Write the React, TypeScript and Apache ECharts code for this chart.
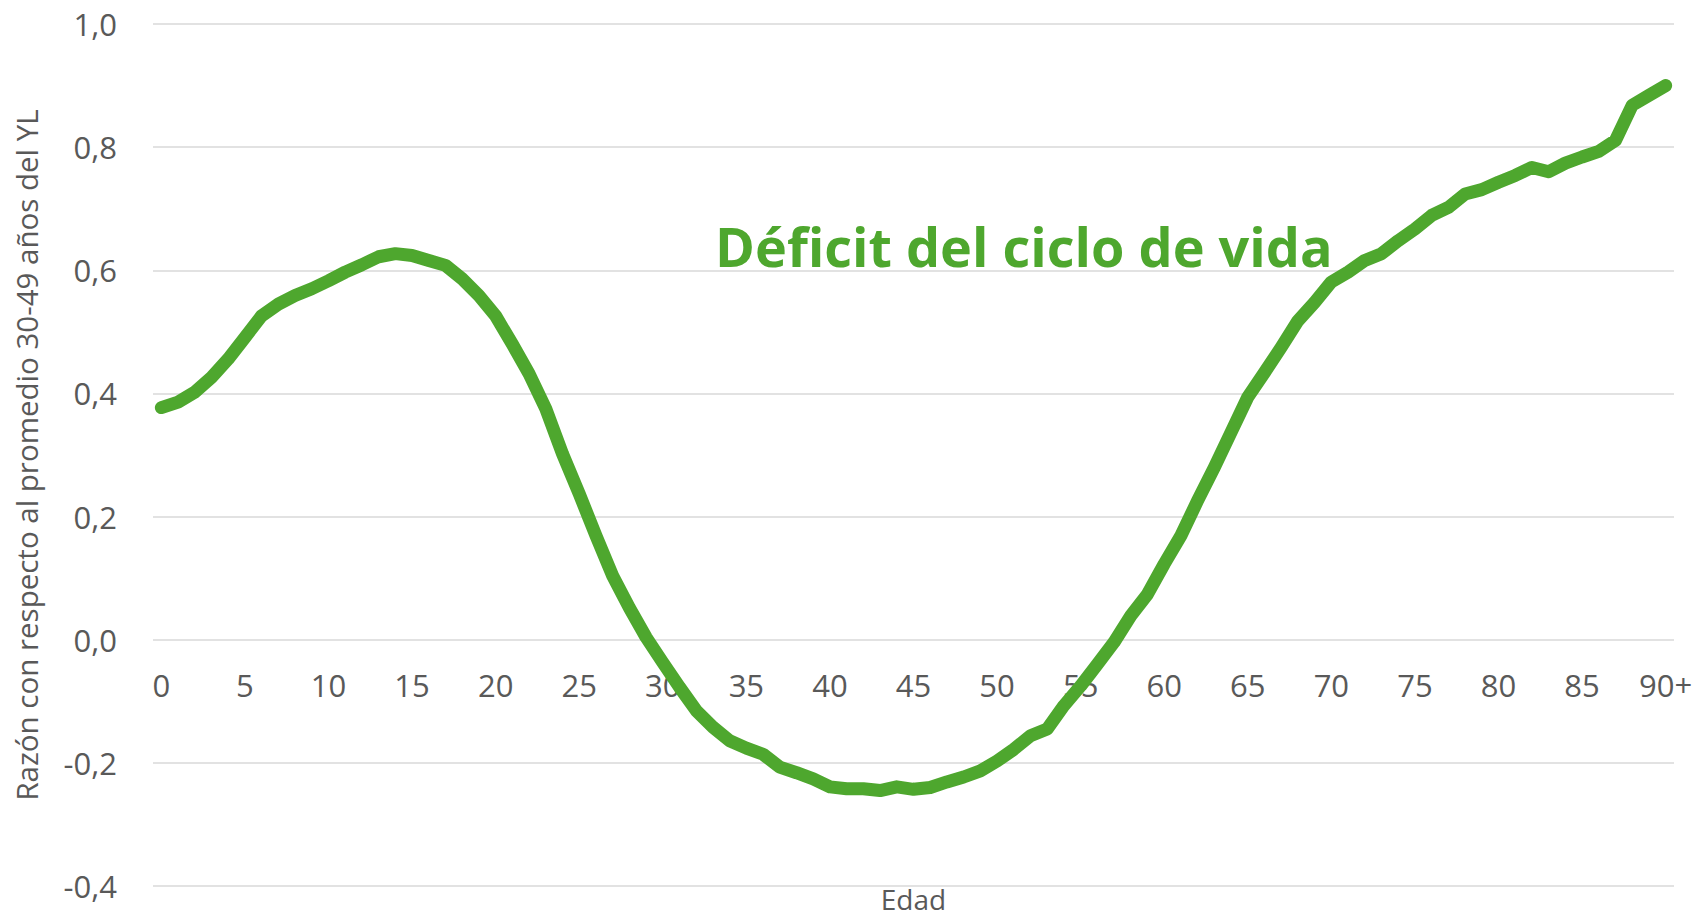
import React, { useEffect, useRef } from "react";
import * as echarts from "echarts";

const ages: string[] = [
  "0","1","2","3","4","5","6","7","8","9",
  "10","11","12","13","14","15","16","17","18","19",
  "20","21","22","23","24","25","26","27","28","29",
  "30","31","32","33","34","35","36","37","38","39",
  "40","41","42","43","44","45","46","47","48","49",
  "50","51","52","53","54","55","56","57","58","59",
  "60","61","62","63","64","65","66","67","68","69",
  "70","71","72","73","74","75","76","77","78","79",
  "80","81","82","83","84","85","86","87","88","89",
  "90+",
];

const deficit: number[] = [
  0.377, 0.386, 0.402, 0.426, 0.456, 0.491, 0.526, 0.545, 0.559, 0.570,
  0.583, 0.597, 0.609, 0.622, 0.627, 0.624, 0.616, 0.608, 0.586, 0.559,
  0.526, 0.480, 0.432, 0.375, 0.302, 0.237, 0.169, 0.104, 0.052, 0.004,
  -0.037, -0.077, -0.115, -0.142, -0.164, -0.176, -0.186, -0.207, -0.216, -0.226,
  -0.239, -0.242, -0.242, -0.245, -0.239, -0.243, -0.240, -0.231, -0.223, -0.213,
  -0.197, -0.178, -0.156, -0.145, -0.107, -0.075, -0.040, -0.004, 0.039, 0.074,
  0.123, 0.169, 0.226, 0.280, 0.337, 0.394, 0.434, 0.475, 0.518, 0.548,
  0.581, 0.597, 0.616, 0.627, 0.648, 0.667, 0.689, 0.702, 0.724, 0.731,
  0.743, 0.754, 0.767, 0.760, 0.774, 0.784, 0.793, 0.811, 0.868, 0.884,
  0.900,
];

const seriesName = "Déficit del ciclo de vida";
const yAxisTitle = "Razón con respecto al promedio 30-49 años del YL";
const xAxisTitle = "Edad";

const GREEN = "#4EA72E";
const GRAY = "#595959";
const FONT = "'Open Sans', Roboto, sans-serif";

const Y_MIN = -0.4;
const Y_MAX = 1.0;
const GRID_TOP = 24;
const GRID_BOTTOM = 36;
const CHART_H = 922;

export default function App() {
  const ref = useRef<HTMLDivElement>(null);

  useEffect(() => {
    if (!ref.current) return;
    const chart = echarts.init(ref.current, undefined, { renderer: "svg" });
    const plotH = CHART_H - GRID_TOP - GRID_BOTTOM;
    // distance from the bottom of the plot up to the value 0
    const zeroOffset = (plotH * (0 - Y_MIN)) / (Y_MAX - Y_MIN);
    chart.setOption({
      animation: false,
      backgroundColor: "#ffffff",
      textStyle: { fontFamily: FONT },
      grid: {
        left: 153,
        right: 32,
        top: GRID_TOP,
        bottom: GRID_BOTTOM,
        containLabel: false,
        outerBoundsMode: "none",
      },
      xAxis: {
        type: "category",
        data: ages,
        boundaryGap: true,
        offset: -zeroOffset,
        axisLine: { show: false, onZero: false },
        axisTick: { show: false },
        splitLine: { show: false },
        axisLabel: {
          interval: 4,
          color: GRAY,
          fontSize: 31,
          fontFamily: FONT,
          margin: 30,
        },
        name: xAxisTitle,
        nameLocation: "middle",
        nameGap: 245,
        nameTextStyle: { color: GRAY, fontSize: 28, fontFamily: FONT, lineHeight: 28 },
      },
      yAxis: {
        type: "value",
        min: Y_MIN,
        max: Y_MAX,
        interval: 0.2,
        axisLine: { show: false },
        axisTick: { show: false },
        splitLine: { lineStyle: { color: "#d9d9d9", width: 1.5 } },
        axisLabel: {
          color: GRAY,
          fontSize: 31,
          fontFamily: FONT,
          margin: 36,
          formatter: (v: number) => {
            const r = Math.round(v * 10) / 10;
            return (Math.abs(r) < 1e-9 ? 0 : r).toFixed(1).replace(".", ",");
          },
        },
        name: yAxisTitle,
        nameLocation: "middle",
        nameGap: 112,
        nameTextStyle: { color: GRAY, fontSize: 29.5, fontFamily: FONT },
      },
      series: [
        {
          name: seriesName,
          type: "line",
          data: deficit,
          showSymbol: false,
          symbol: "none",
          lineStyle: { color: GREEN, width: 13, cap: "round", join: "round" },
          itemStyle: { color: GREEN },
        },
      ],
      graphic: [
        {
          type: "text",
          x: 715,
          y: 246,
          style: {
            text: seriesName,
            fill: GREEN,
            font: `bold 54px ${FONT}`,
            textAlign: "left",
            textVerticalAlign: "middle",
            verticalAlign: "middle",
          },
        },
      ],
    });
    return () => chart.dispose();
  }, []);

  return (
    <div
      ref={ref}
      style={{ position: "fixed", left: 0, top: 0, width: 1706, height: 922 }}
    />
  );
}
